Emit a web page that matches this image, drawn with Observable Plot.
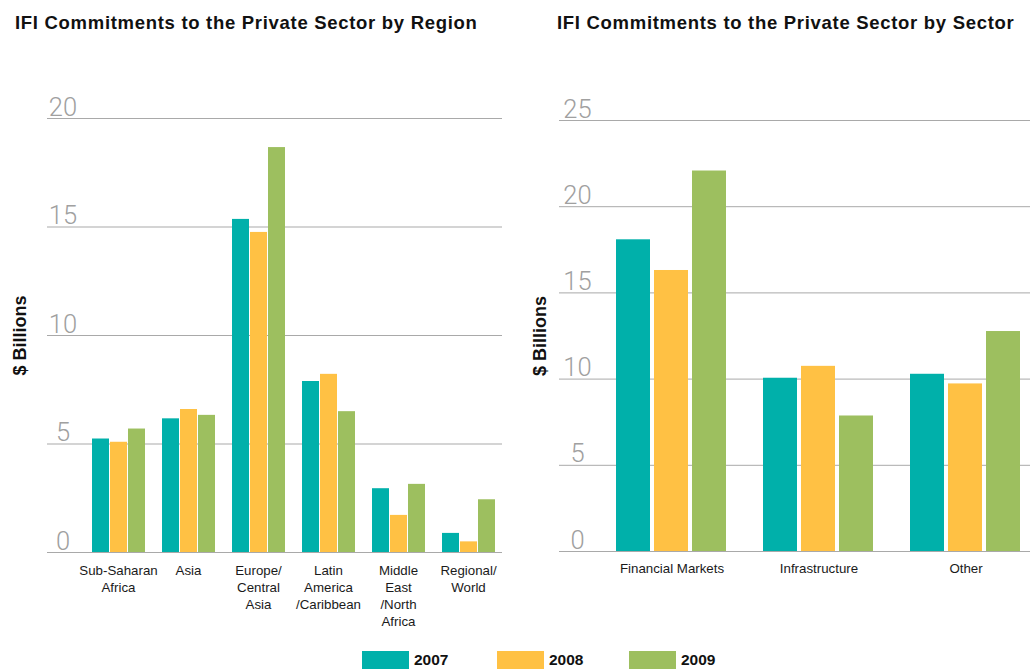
<!DOCTYPE html>
<html>
<head>
<meta charset="utf-8">
<script src="https://cdn.jsdelivr.net/npm/d3@7"></script>
<script src="https://cdn.jsdelivr.net/npm/@observablehq/plot@0.6"></script>
<style>
  html, body { margin: 0; padding: 0; background: #fff; }
  #root { position: relative; width: 1030px; height: 669px; overflow: hidden; font-family: "Liberation Sans", Arial, sans-serif; }
  .title { position: absolute; top: 12px; font-weight: bold; font-size: 18.5px; letter-spacing: 0.7px; color: #111; white-space: nowrap; }
  .panel { position: absolute; top: 40px; }
  .legend-item { position: absolute; top: 651px; display: flex; align-items: flex-start; }
  .sw { width: 47px; height: 22px; }
  .lab { font-weight: bold; font-size: 15.5px; color: #111; margin-left: 5px; line-height: 18px; }
</style>
</head>
<body>
<div id="root"></div>
<script>
// ---------- data ----------
const years = ["2007", "2008", "2009"];
const yearColors = ["#00B0AA", "#FFC144", "#9DBF5F"];

const regions = ["Sub-Saharan Africa", "Asia", "Europe/Central Asia", "Latin America/Caribbean", "Middle East/North Africa", "Regional/World"];
const regionLabels = ["Sub-Saharan\nAfrica", "Asia", "Europe/\nCentral\nAsia", "Latin\nAmerica\n/Caribbean", "Middle\nEast\n/North\nAfrica", "Regional/\nWorld"];
const region2007 = [5.23, 6.16, 15.35, 7.88, 2.94, 0.88];
const region2008 = [5.08, 6.59, 14.75, 8.21, 1.71, 0.49];
const region2009 = [5.69, 6.32, 18.66, 6.49, 3.14, 2.43];
const regionTicks = [0, 5, 10, 15, 20];

const sectors = ["Financial Markets", "Infrastructure", "Other"];
const sectorLabels = ["Financial Markets", "Infrastructure", "Other"];
const sector2007 = [18.08, 10.05, 10.28];
const sector2008 = [16.30, 10.74, 9.72];
const sector2009 = [22.07, 7.86, 12.76];
const sectorTicks = [0, 5, 10, 15, 20, 25];

const titleLeft = "IFI Commitments to the Private Sector by Region";
const titleRight = "IFI Commitments to the Private Sector by Sector";
const yLabel = "$ Billions";

// ---------- helpers ----------
function tidy(cats, series) {
  const rows = [];
  cats.forEach((c, i) => years.forEach((y, k) => rows.push({cat: c, year: y, value: series[k][i]})));
  return rows;
}

const FONT = "'Liberation Sans', Arial, sans-serif";

function panel(o) {
  const common = {
    width: o.width, height: 600,
    marginLeft: o.marginLeft, marginRight: o.marginRight, marginTop: o.marginTop, marginBottom: o.marginBottom,
    style: {fontFamily: FONT, overflow: "visible", background: "transparent"},
    y: {domain: [0, o.ticks[o.ticks.length - 1]], axis: null}
  };
  // background layer: grid, tick labels, axis title
  const back = Plot.plot({
    ...common,
    marks: [
      Plot.ruleY(o.ticks, {stroke: "#a9a9a9", strokeWidth: 1}),
      Plot.text(o.ticks, {y: d => d, text: d => String(d), frameAnchor: "left", textAnchor: "middle", dx: o.tickDx,
        dy: -3, lineAnchor: "bottom", fill: "#a0a0a0", fontSize: 25.5, fontWeight: 300,
        fontFamily: "Roboto, 'Liberation Sans', sans-serif"}),
      Plot.text([yLabel], {frameAnchor: "left", textAnchor: "middle", dx: o.labelDx, rotate: -90, text: d => d,
        fontWeight: "bold", fontSize: 18, fill: "#111"})
    ]
  });
  // foreground layer: grouped bars and category labels
  const data = tidy(o.cats, o.series);
  const front = Plot.plot({
    ...common,
    fx: {domain: o.cats, axis: null, paddingInner: o.fxPad, paddingOuter: o.fxOuter, align: o.fxAlign},
    x: {domain: years, axis: null, paddingInner: o.xPad, paddingOuter: 0},
    color: {domain: years, range: yearColors},
    marks: [
      Plot.barY(data, {fx: "cat", x: "year", y: "value", fill: "year"}),
      Plot.text(o.cats, {fx: d => d, text: (d, i) => o.labels[i], frameAnchor: "bottom", lineAnchor: "top",
        dy: o.catDy, fontSize: 13.3, lineHeight: 1.26, fill: "#1a1a1a"})
    ]
  });
  const wrap = document.createElement("div");
  wrap.className = "panel";
  wrap.style.left = o.left + "px";
  wrap.style.width = o.width + "px";
  wrap.style.height = "600px";
  back.style.position = "absolute"; back.style.left = "0"; back.style.top = "0";
  front.style.position = "absolute"; front.style.left = "0"; front.style.top = "0";
  wrap.appendChild(back);
  wrap.appendChild(front);
  return wrap;
}

// ---------- build ----------
const root = document.getElementById("root");

const t1 = document.createElement("div");
t1.className = "title"; t1.style.left = "15px"; t1.textContent = titleLeft; root.appendChild(t1);
const t2 = document.createElement("div");
t2.className = "title"; t2.style.left = "557px"; t2.textContent = titleRight; root.appendChild(t2);

root.appendChild(panel({
  left: 0,
  cats: regions, labels: regionLabels, series: [region2007, region2008, region2009], ticks: regionTicks,
  width: 515, marginLeft: 47, marginRight: 13, marginTop: 78, marginBottom: 88,
  fxPad: 0.225, fxOuter: 0.349, fxAlign: 0.863, xPad: 0.08, tickDx: 15.5, labelDx: -27, catDy: 11
}));

root.appendChild(panel({
  left: 515,
  cats: sectors, labels: sectorLabels, series: [sector2007, sector2008, sector2009], ticks: sectorTicks,
  width: 515, marginLeft: 44, marginRight: 0, marginTop: 80, marginBottom: 89,
  fxPad: 0.23, fxOuter: 0.215, fxAlign: 0.87, xPad: 0.1, tickDx: 18, labelDx: -19, catDy: 10
}));

// legend
const legendX = [362, 497, 629];
years.forEach((y, k) => {
  const item = document.createElement("div");
  item.className = "legend-item";
  item.style.left = legendX[k] + "px";
  const sw = document.createElement("div");
  sw.className = "sw"; sw.style.background = yearColors[k];
  const lab = document.createElement("div");
  lab.className = "lab"; lab.textContent = y;
  item.appendChild(sw); item.appendChild(lab);
  root.appendChild(item);
});
</script>
</body>
</html>
